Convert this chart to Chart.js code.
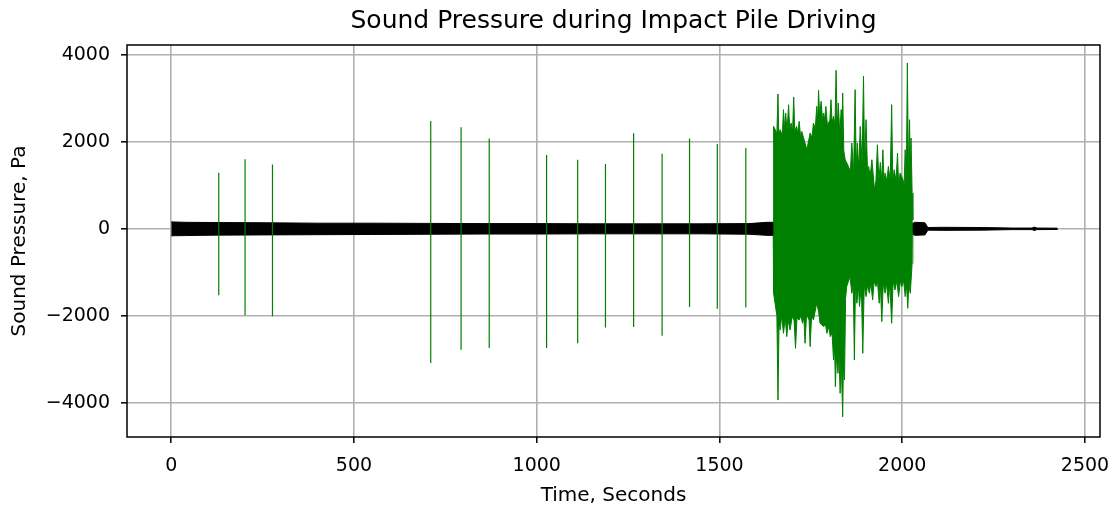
<!DOCTYPE html>
<html>
<head>
<meta charset="utf-8">
<script src="https://cdn.jsdelivr.net/npm/chart.js@4"></script>
<style>
  html, body { margin: 0; padding: 0; background: #fff; }
</style>
</head>
<body>
<canvas id="chart-1" width="1116" height="511"></canvas>
<script>
// ticks
const xTicks = [0, 500, 1000, 1500, 2000, 2500];
const yTicks = [-4000, -2000, 0, 2000, 4000];

// background hydrophone noise (black), envelope
const blackX    = [0, 40, 120, 250, 400, 550, 700, 850, 1000, 1150, 1300, 1450, 1580, 1630, 1650, 2028, 2034, 2062, 2070, 2110, 2220, 2300, 2355, 2362, 2368, 2425];
const blackHigh = [160, 150, 145, 140, 130, 130, 125, 120, 120, 115, 115, 115, 120, 150, 150, 120, 150, 140, 30, 35, 30, 18, 18, 40, 18, 15];
const blackLow  = [-160, -155, -145, -140, -135, -130, -125, -120, -120, -115, -115, -115, -125, -150, -150, -120, -150, -140, -30, -35, -30, -18, -18, -40, -18, -15];

// single pile strikes (green)
const spikeTimes = [130, 202, 277, 710, 793, 870, 1027, 1112, 1188, 1265, 1343, 1418, 1494, 1572];
const spikeHigh  = [1290, 1600, 1480, 2480, 2340, 2080, 1700, 1590, 1490, 2200, 1730, 2080, 1950, 1860];
const spikeLow   = [-1530, -1990, -2010, -3090, -2780, -2740, -2740, -2630, -2270, -2260, -2460, -1800, -1840, -1810];

// continuous driving, upper envelope (peaks and the dips between them)
const driveTopX = [1647, 1648, 1657, 1660, 1662, 1666, 1672, 1675, 1678, 1681, 1685, 1689, 1692, 1696, 1700, 1703, 1706, 1711, 1714, 1718, 1722, 1725, 1734, 1739, 1748, 1753, 1757, 1762, 1766, 1769, 1771, 1774, 1778, 1782, 1785, 1788, 1791, 1795, 1798, 1802, 1805, 1808, 1812, 1816, 1819, 1822, 1825, 1829, 1833, 1835, 1837, 1840, 1844, 1853, 1858, 1862, 1867, 1871, 1874, 1877, 1881, 1885, 1890, 1894, 1897, 1901, 1905, 1908, 1912, 1917, 1924, 1928, 1932, 1936, 1940, 1944, 1947, 1950, 1953, 1958, 1962, 1967, 1971, 1974, 1978, 1983, 1987, 1990, 1994, 2002, 2005, 2008, 2011, 2014, 2017, 2020, 2022, 2024, 2027, 2029];
const driveTop  = [150, 2357, 2200, 3103, 2200, 2281, 2150, 2742, 2300, 2665, 2250, 2857, 2300, 2435, 2250, 3034, 2250, 2357, 2200, 2473, 2100, 2242, 1974, 1820, 2204, 2100, 2435, 2300, 2818, 2500, 3187, 2600, 2933, 2500, 2665, 2500, 2818, 2400, 2435, 2500, 2972, 2450, 2588, 2400, 3648, 2300, 2895, 2200, 2742, 2100, 3126, 1800, 1590, 1436, 1300, 1974, 1300, 3203, 1400, 1974, 1400, 2357, 1500, 3510, 1500, 2511, 1300, 1436, 1200, 1590, 899, 1100, 1935, 1100, 1528, 1100, 1820, 1100, 1283, 1100, 1436, 1100, 2857, 1100, 1359, 1100, 1743, 1000, 1283, 1129, 1000, 1820, 1000, 3817, 1200, 2511, 1300, 2090, 822, 207];

// continuous driving, lower envelope
const driveBotX = [1647, 1648, 1657, 1660, 1663, 1666, 1670, 1675, 1680, 1684, 1688, 1693, 1699, 1704, 1708, 1712, 1718, 1723, 1727, 1731, 1734, 1738, 1741, 1745, 1748, 1752, 1757, 1766, 1771, 1775, 1785, 1790, 1794, 1799, 1803, 1808, 1812, 1815, 1817, 1820, 1824, 1827, 1830, 1833, 1837, 1839, 1842, 1845, 1848, 1857, 1862, 1866, 1869, 1872, 1876, 1880, 1883, 1888, 1892, 1896, 1901, 1905, 1910, 1914, 1919, 1923, 1928, 1932, 1937, 1940, 1944, 1948, 1953, 1957, 1962, 1966, 1971, 1975, 1980, 1985, 1990, 1995, 1999, 2004, 2008, 2012, 2015, 2018, 2022, 2027, 2029];
const driveBot  = [-150, -1482, -2000, -3940, -2100, -2327, -2000, -2404, -2050, -2480, -2100, -2327, -2020, -2100, -2749, -2050, -2097, -2000, -2173, -2050, -2634, -2000, -2020, -2100, -2711, -2000, -2097, -1713, -1900, -2173, -2250, -2200, -2404, -2250, -2480, -2400, -3018, -2700, -3633, -2900, -3325, -2900, -3786, -3000, -4325, -3100, -3479, -1600, -1329, -1100, -1482, -1300, -3018, -1300, -1713, -1300, -1789, -1300, -2864, -1300, -1559, -1300, -1482, -1250, -1636, -1200, -1329, -1200, -1713, -1250, -2135, -1250, -1482, -1250, -1713, -1250, -2173, -1200, -1406, -1200, -1559, -1200, -1329, -1200, -1559, -1300, -1828, -1300, -1482, -791, -99];

const pts = (xs, ys) => xs.map((x, i) => ({x: x, y: ys[i]}));

const spikePts = [];
spikeTimes.forEach((t, i) => {
  spikePts.push({x: t, y: spikeHigh[i]}, {x: t, y: spikeLow[i]}, {x: t, y: null});
});

const green = '#008000';
const font = 'DejaVu Sans';

const frame = {
  id: 'frame',
  afterDraw(chart) {
    const a = chart.chartArea, c = chart.ctx;
    c.save();
    c.strokeStyle = '#000';
    c.lineWidth = 1.5;
    c.strokeRect(a.left, a.top, a.right - a.left, a.bottom - a.top);
    c.restore();
  }
};

const ctx = document.getElementById('chart-1');

new Chart(ctx, {
  type: 'line',
  data: {
    datasets: [
      { data: pts(blackX, blackHigh), borderColor: '#000', backgroundColor: '#000', borderWidth: 1, fill: '+1', order: 2 },
      { data: pts(blackX, blackLow), borderColor: '#000', borderWidth: 1, fill: false, order: 2 },
      { data: pts(driveTopX, driveTop), borderColor: green, backgroundColor: green, borderWidth: 1, fill: '+1', order: 1 },
      { data: pts(driveBotX, driveBot), borderColor: green, borderWidth: 1, fill: false, order: 1 },
      { data: spikePts, borderColor: green, borderWidth: 1.2, fill: false, spanGaps: false, order: 0 }
    ]
  },
  options: {
    responsive: false,
    animation: false,
    layout: { padding: { left: 0, right: 16, top: 0, bottom: 0 } },
    elements: { point: { radius: 0 }, line: { tension: 0 } },
    plugins: {
      legend: { display: false },
      tooltip: { enabled: false },
      title: {
        display: true,
        fullSize: false,
        text: 'Sound Pressure during Impact Pile Driving',
        color: '#000',
        font: { family: font, size: 25, weight: 'normal' },
        padding: { top: 6, bottom: 9 }
      }
    },
    scales: {
      x: {
        type: 'linear',
        min: -121,
        max: 2541,
        afterBuildTicks: s => { s.ticks = xTicks.map(v => ({value: v})); },
        afterFit: s => { s.height = 74; s.paddingLeft = 0; s.paddingRight = 0; },
        border: { display: false },
        grid: { color: '#b0b0b0', lineWidth: 1.6, tickColor: '#000', tickLength: 6, tickWidth: 1.5 },
        ticks: { color: '#000', padding: 12, maxRotation: 0, font: { family: font, size: 19 }, callback: v => '' + v },
        title: { display: true, text: 'Time, Seconds', color: '#000', font: { family: font, size: 20 }, padding: { top: 4, bottom: 3 } }
      },
      y: {
        min: -4790,
        max: 4230,
        afterBuildTicks: s => { s.ticks = yTicks.map(v => ({value: v})); },
        afterFit: s => { s.width = 127; },
        border: { display: false },
        grid: { color: '#b0b0b0', lineWidth: 1.6, tickColor: '#000', tickLength: 6, tickWidth: 1.5 },
        ticks: {
          color: '#000', padding: 11,
          font: { family: font, size: 19 },
          callback: v => (v < 0 ? '\u2212' + Math.abs(v) : '' + v)
        },
        title: { display: true, text: 'Sound Pressure, Pa', color: '#000', font: { family: font, size: 20 }, padding: { top: 8, bottom: 0 } }
      }
    }
  },
  plugins: [frame]
});
</script>
</body>
</html>
